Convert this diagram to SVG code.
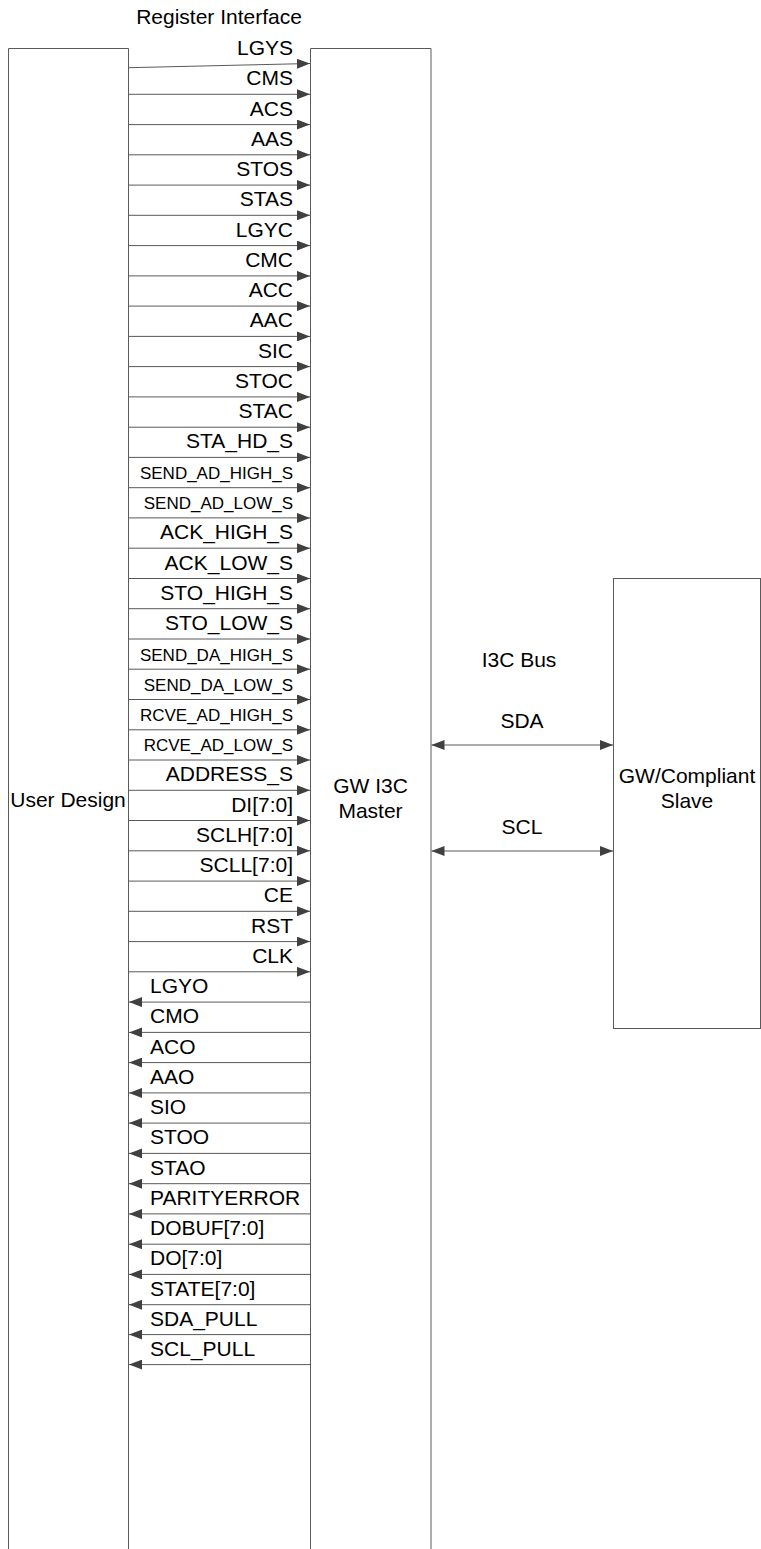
<svg xmlns="http://www.w3.org/2000/svg" width="761" height="1549" viewBox="0 0 761 1549">
<style>
.box{fill:none;stroke:#5a5a5a;stroke-width:1}
.w{stroke:#595959;stroke-width:1;fill:none}
.in{marker-end:url(#ah)}
.out{marker-end:url(#ah)}
.bus{marker-start:url(#ah);marker-end:url(#ah)}
text{font-family:"Liberation Sans",Arial,sans-serif;font-size:21px;fill:#000}
.r{text-anchor:end}
.l{text-anchor:start}
.c{text-anchor:middle}
.s{font-size:17px}
</style>
<defs>
<marker id="ah" markerUnits="userSpaceOnUse" markerWidth="13" markerHeight="10" refX="13" refY="5" orient="auto-start-reverse">
<path d="M0,0 L13,5 L0,10 Z" fill="#404040"/>
</marker>
</defs>
<text class="c" x="219" y="24">Register Interface</text>
<g id="user-design">
<path class="box" d="M8.5,1549 V48.5 H128.5 V1549"/>
<text class="c" x="68" y="807">User Design</text>
</g>
<g id="gw-i3c-master">
<path class="box" d="M310.5,1549 V48.5 H431 V1549"/>
<text class="c" x="370.5" y="793">GW I3C</text>
<text class="c" x="370.5" y="818">Master</text>
</g>
<g id="slave">
<rect class="box" x="613.5" y="578.5" width="147" height="450"/>
<text class="c" x="687" y="783">GW/Compliant</text>
<text class="c" x="687" y="808">Slave</text>
</g>
<g id="connectors">
<line class="w in" x1="128.5" y1="67.7" x2="310" y2="63.5"/><text class="r" x="293" y="55">LGYS</text>
<line class="w in" x1="128.5" y1="94.3" x2="310" y2="94.3"/><text class="r" x="293" y="85.3">CMS</text>
<line class="w in" x1="128.5" y1="124.6" x2="310" y2="124.6"/><text class="r" x="293" y="115.6">ACS</text>
<line class="w in" x1="128.5" y1="154.8" x2="310" y2="154.8"/><text class="r" x="293" y="145.8">AAS</text>
<line class="w in" x1="128.5" y1="185.1" x2="310" y2="185.1"/><text class="r" x="293" y="176.1">STOS</text>
<line class="w in" x1="128.5" y1="215.3" x2="310" y2="215.3"/><text class="r" x="293" y="206.3">STAS</text>
<line class="w in" x1="128.5" y1="245.6" x2="310" y2="245.6"/><text class="r" x="293" y="236.6">LGYC</text>
<line class="w in" x1="128.5" y1="275.9" x2="310" y2="275.9"/><text class="r" x="293" y="266.9">CMC</text>
<line class="w in" x1="128.5" y1="306.1" x2="310" y2="306.1"/><text class="r" x="293" y="297.1">ACC</text>
<line class="w in" x1="128.5" y1="336.4" x2="310" y2="336.4"/><text class="r" x="293" y="327.4">AAC</text>
<line class="w in" x1="128.5" y1="366.6" x2="310" y2="366.6"/><text class="r" x="293" y="357.6">SIC</text>
<line class="w in" x1="128.5" y1="396.9" x2="310" y2="396.9"/><text class="r" x="293" y="387.9">STOC</text>
<line class="w in" x1="128.5" y1="427.2" x2="310" y2="427.2"/><text class="r" x="293" y="418.2">STAC</text>
<line class="w in" x1="128.5" y1="457.4" x2="310" y2="457.4"/><text class="r" x="293" y="448.4">STA_HD_S</text>
<line class="w in" x1="128.5" y1="487.7" x2="310" y2="487.7"/><text class="r s" x="293" y="479">SEND_AD_HIGH_S</text>
<line class="w in" x1="128.5" y1="517.9" x2="310" y2="517.9"/><text class="r s" x="293" y="509.2">SEND_AD_LOW_S</text>
<line class="w in" x1="128.5" y1="548.2" x2="310" y2="548.2"/><text class="r" x="293" y="539.2">ACK_HIGH_S</text>
<line class="w in" x1="128.5" y1="578.5" x2="310" y2="578.5"/><text class="r" x="293" y="569.5">ACK_LOW_S</text>
<line class="w in" x1="128.5" y1="608.7" x2="310" y2="608.7"/><text class="r" x="293" y="599.7">STO_HIGH_S</text>
<line class="w in" x1="128.5" y1="639" x2="310" y2="639"/><text class="r" x="293" y="630">STO_LOW_S</text>
<line class="w in" x1="128.5" y1="669.2" x2="310" y2="669.2"/><text class="r s" x="293" y="660.5">SEND_DA_HIGH_S</text>
<line class="w in" x1="128.5" y1="699.5" x2="310" y2="699.5"/><text class="r s" x="293" y="690.8">SEND_DA_LOW_S</text>
<line class="w in" x1="128.5" y1="729.8" x2="310" y2="729.8"/><text class="r s" x="293" y="721.1">RCVE_AD_HIGH_S</text>
<line class="w in" x1="128.5" y1="760" x2="310" y2="760"/><text class="r s" x="293" y="751.3">RCVE_AD_LOW_S</text>
<line class="w in" x1="128.5" y1="790.3" x2="310" y2="790.3"/><text class="r" x="293" y="781.3">ADDRESS_S</text>
<line class="w in" x1="128.5" y1="820.5" x2="310" y2="820.5"/><text class="r" x="293" y="811.5">DI[7:0]</text>
<line class="w in" x1="128.5" y1="850.8" x2="310" y2="850.8"/><text class="r" x="293" y="841.8">SCLH[7:0]</text>
<line class="w in" x1="128.5" y1="881.1" x2="310" y2="881.1"/><text class="r" x="293" y="872.1">SCLL[7:0]</text>
<line class="w in" x1="128.5" y1="911.3" x2="310" y2="911.3"/><text class="r" x="293" y="902.3">CE</text>
<line class="w in" x1="128.5" y1="941.6" x2="310" y2="941.6"/><text class="r" x="293" y="932.6">RST</text>
<line class="w in" x1="128.5" y1="971.8" x2="310" y2="971.8"/><text class="r" x="293" y="962.8">CLK</text>
<line class="w out" x1="310.5" y1="1002.1" x2="129" y2="1002.1"/><text class="l" x="150" y="993.1">LGYO</text>
<line class="w out" x1="310.5" y1="1032.4" x2="129" y2="1032.4"/><text class="l" x="150" y="1023.4">CMO</text>
<line class="w out" x1="310.5" y1="1062.6" x2="129" y2="1062.6"/><text class="l" x="150" y="1053.6">ACO</text>
<line class="w out" x1="310.5" y1="1092.9" x2="129" y2="1092.9"/><text class="l" x="150" y="1083.9">AAO</text>
<line class="w out" x1="310.5" y1="1123.1" x2="129" y2="1123.1"/><text class="l" x="150" y="1114.1">SIO</text>
<line class="w out" x1="310.5" y1="1153.4" x2="129" y2="1153.4"/><text class="l" x="150" y="1144.4">STOO</text>
<line class="w out" x1="310.5" y1="1183.7" x2="129" y2="1183.7"/><text class="l" x="150" y="1174.7">STAO</text>
<line class="w out" x1="310.5" y1="1213.9" x2="129" y2="1213.9"/><text class="l" x="150" y="1204.9">PARITYERROR</text>
<line class="w out" x1="310.5" y1="1244.2" x2="129" y2="1244.2"/><text class="l" x="150" y="1235.2">DOBUF[7:0]</text>
<line class="w out" x1="310.5" y1="1274.4" x2="129" y2="1274.4"/><text class="l" x="150" y="1265.4">DO[7:0]</text>
<line class="w out" x1="310.5" y1="1304.7" x2="129" y2="1304.7"/><text class="l" x="150" y="1295.7">STATE[7:0]</text>
<line class="w out" x1="310.5" y1="1334.6" x2="129" y2="1334.6"/><text class="l" x="150" y="1325.6">SDA_PULL</text>
<line class="w out" x1="310.5" y1="1364.6" x2="129" y2="1364.6"/><text class="l" x="150" y="1355.6">SCL_PULL</text>
<text class="c" x="519" y="667">I3C Bus</text>
<line class="w bus" x1="431.5" y1="745" x2="613" y2="745"/><text class="c" x="522" y="728">SDA</text>
<line class="w bus" x1="431.5" y1="851" x2="613" y2="851"/><text class="c" x="522" y="834">SCL</text>
</g>
</svg>
